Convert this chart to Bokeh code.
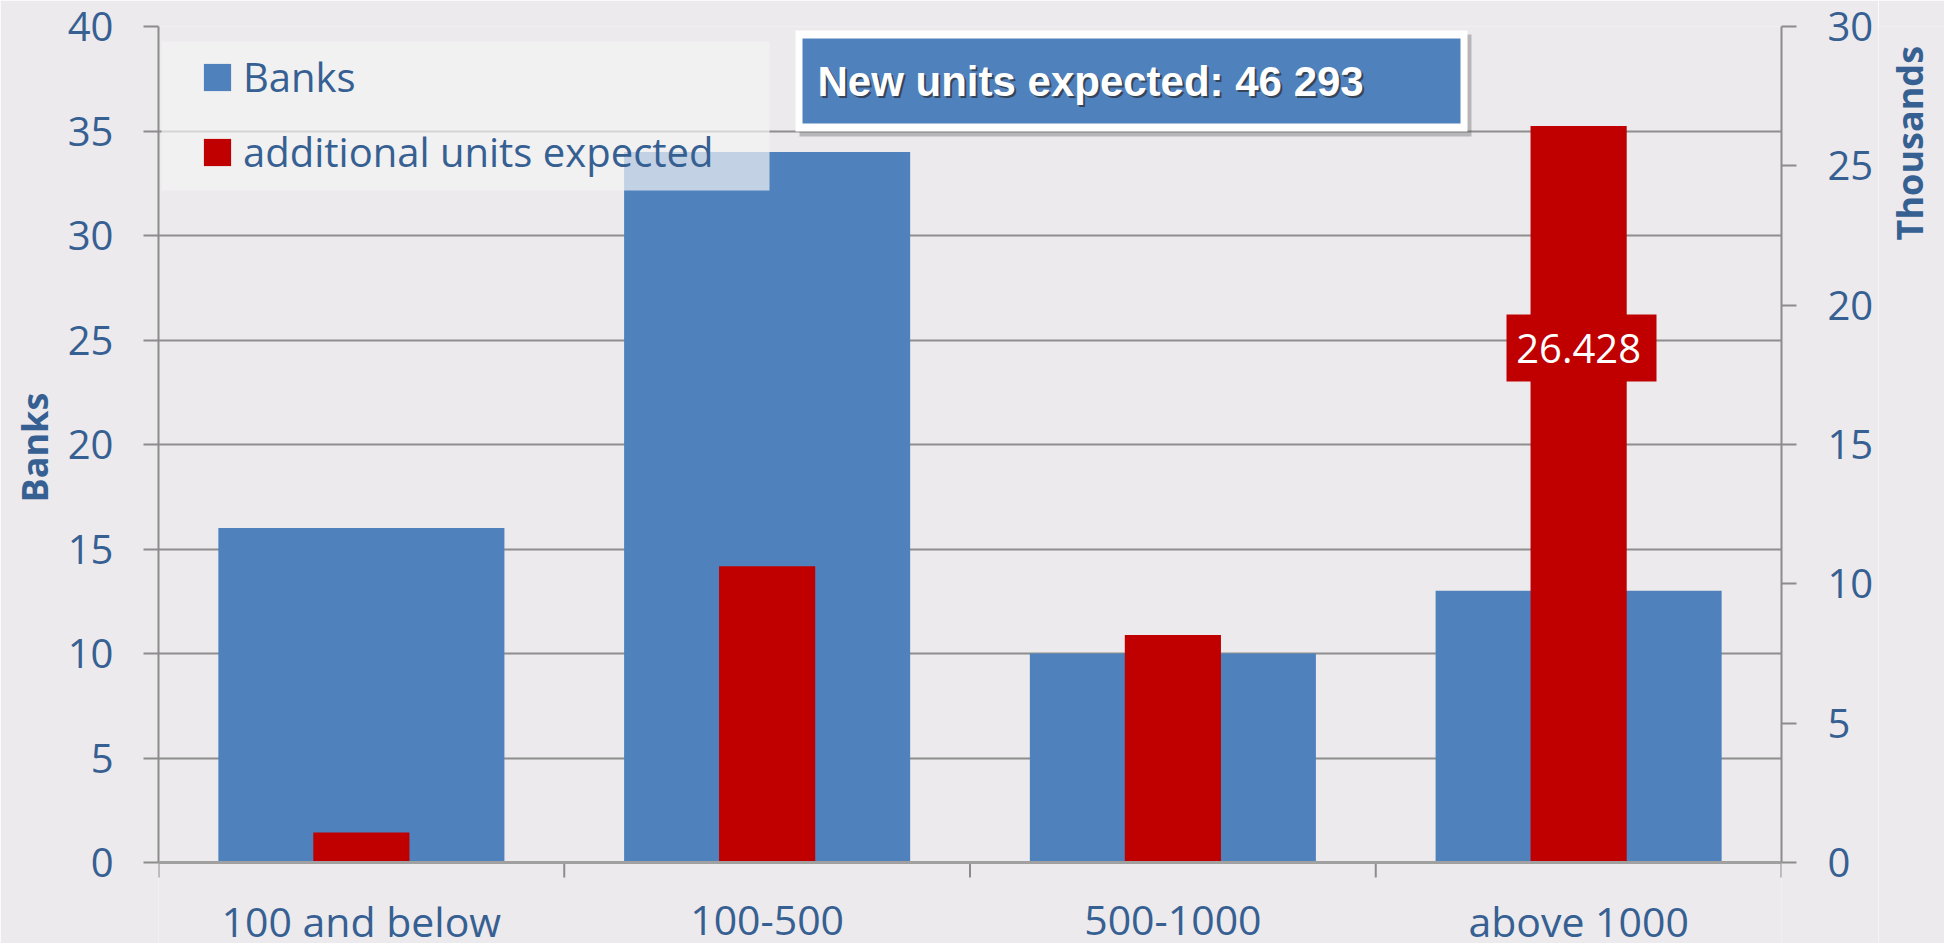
import math
from bokeh.plotting import figure
from bokeh.layouts import row
from bokeh.models import (Range1d, LinearAxis, FixedTicker, BoxAnnotation, Label,
                          Legend, LegendItem, Span)
from bokeh.core.properties import value
from bokeh.embed import file_html
from bokeh.resources import INLINE

# ---------------- data ----------------
categories = ["100 and below", "100-500", "500-1000", "above 1000"]
banks = [16, 34, 10, 13]
units_thousands = [1.075, 10.63, 8.16, 26.428]
highlight_label = "26.428"
headline = "New units expected: 46 293"
left_ticks = [0, 5, 10, 15, 20, 25, 30, 35, 40]
right_ticks = [0, 5, 10, 15, 20, 25, 30]

# ---------------- style ----------------
BG = "#ECEAED"
TXT = "#376092"
BLUE = "#4F81BD"
RED = "#C00000"
AX = "#8C8C8C"
FONT = "Open Sans"

# page geometry (the page is drawn from its top-left corner)
TOT_W, TOT_H = 1944, 943
FL, FR, FT, FB = 158, 1781, 26, 862      # value area: x axis baseline at FB
P_W = 1878                               # main figure width
S_W = TOT_W - P_W                        # right strip: axis title
NCAT = len(categories)
YMAX_L = left_ticks[-1]
YMAX_R = right_ticks[-1]


def dx(px):
    return (px - FL) / (FR - FL) * NCAT


def dy(py):
    return (FB - py) / (FB - FT) * YMAX_L


def du(py):
    return (FB - py) / (FB - FT) * YMAX_R


xc = [i + 0.5 for i in range(NCAT)]
bounds_x = list(range(NCAT + 1))

# the frame runs down to the page bottom so that the category labels can live inside it
p = figure(width=P_W, height=TOT_H, x_range=Range1d(0, NCAT), y_range=Range1d(dy(TOT_H), YMAX_L),
           x_axis_type=None, output_backend="svg", toolbar_location=None,
           min_border_left=FL, min_border_right=P_W - FR, min_border_top=FT, min_border_bottom=0,
           background_fill_color=BG, border_fill_color=BG, outline_line_color=None)
p.extra_y_ranges = {"units": Range1d(du(TOT_H), YMAX_R)}

# left axis
ya = p.yaxis[0]
ya.bounds = (0, YMAX_L)
ya.ticker = FixedTicker(ticks=left_ticks)
ya.major_tick_out = 15
ya.major_tick_in = 0
ya.minor_tick_out = 0
ya.minor_tick_in = 0
ya.major_tick_line_color = AX
ya.major_tick_line_width = 2
ya.axis_line_color = AX
ya.axis_line_width = 2
ya.major_label_text_font = FONT
ya.major_label_text_font_size = "40px"
ya.major_label_text_color = TXT
ya.major_label_standoff = 30
# leading no-break spaces move the centred title up to the middle of the value area
ya.axis_label = "\u00a0" * 8 + "Banks"
ya.axis_label_text_font = FONT
ya.axis_label_text_font_size = "36px"
ya.axis_label_text_font_style = "bold"
ya.axis_label_text_color = TXT
ya.axis_label_standoff = 6

# right axis
ra = LinearAxis(y_range_name="units", ticker=FixedTicker(ticks=right_ticks), bounds=(0, YMAX_R))
ra.major_tick_out = 15
ra.major_tick_in = 0
ra.minor_tick_out = 0
ra.minor_tick_in = 0
ra.major_tick_line_color = AX
ra.major_tick_line_width = 2
ra.axis_line_color = AX
ra.axis_line_width = 2
ra.major_label_text_font = FONT
ra.major_label_text_font_size = "40px"
ra.major_label_text_color = TXT
ra.major_label_standoff = 31
p.add_layout(ra, "right")

# grid
p.ygrid.ticker = FixedTicker(ticks=left_ticks)
p.ygrid.grid_line_color = "#8E8E8E"
p.ygrid.grid_line_width = 2

# bars
r_banks = p.vbar(x=xc, top=banks, width=0.705, bottom=0, fill_color=BLUE, line_color=None)
r_units = p.vbar(x=xc, top=units_thousands, width=0.237, bottom=0, fill_color=RED, line_color=None,
                 y_range_name="units")

# category axis: baseline, boundary ticks and labels
p.add_layout(Span(location=0, dimension="width", line_color="#A0A0A0", line_width=3))
p.segment(x0=bounds_x, y0=[0] * len(bounds_x), x1=bounds_x, y1=[dy(FB + 15)] * len(bounds_x),
          line_color=AX, line_width=2)
p.text(x=xc, y=[dy(920)] * NCAT, text=categories, text_font=value(FONT), text_font_size="41px",
       text_color=TXT, text_align="center", text_baseline="middle")

# legend background (semi-transparent, over the bars)
p.add_layout(BoxAnnotation(left=dx(161), right=dx(769), top=dy(41), bottom=dy(190),
                           fill_color="#F4F4F4", fill_alpha=0.7, line_color=None))

GLYPH = 34          # legend glyph box (the drawn square is 80% of it)
PAD = 10
LBL_H = 54
SPACING = 74 - LBL_H
leg_top = 78.5 - LBL_H / 2 - PAD
leg_h = 2 * PAD + 2 * LBL_H + SPACING
legend = Legend(items=[LegendItem(label="Banks", renderers=[r_banks]),
                       LegendItem(label="additional units expected", renderers=[r_units])],
                location=(int(round(203 - GLYPH * 0.1 - PAD - FL)), int(round(TOT_H - (leg_top + leg_h)))),
                padding=PAD, margin=0, spacing=SPACING, label_height=LBL_H,
                glyph_width=GLYPH, glyph_height=GLYPH, label_standoff=9,
                label_text_font=FONT, label_text_font_size="40px", label_text_color=TXT,
                background_fill_alpha=0, border_line_alpha=0)
p.add_layout(legend)

# headline box
p.add_layout(BoxAnnotation(left=dx(799), right=dx(1471), top=dy(34), bottom=dy(136),
                           fill_color="#555555", fill_alpha=0.35, line_color=None))
p.add_layout(BoxAnnotation(left=dx(795), right=dx(1467), top=dy(30), bottom=dy(131),
                           fill_color="white", fill_alpha=1, line_color=None))
p.add_layout(BoxAnnotation(left=dx(802), right=dx(1460), top=dy(38), bottom=dy(123),
                           fill_color=BLUE, fill_alpha=1, line_color=None))
for off, col, alp in [((2, -2), "#2A2A2A", 0.7), ((0, 0), "white", 1.0)]:
    p.add_layout(Label(x=dx(817), y=dy(81), x_offset=off[0], y_offset=off[1], text=headline,
                       text_font="Liberation Sans", text_font_style="bold",
                       text_font_size="42px", text_color=col, text_alpha=alp,
                       text_align="left", text_baseline="middle"))

# value label on the biggest red bar
p.add_layout(BoxAnnotation(left=dx(1506), right=dx(1656), top=du(314), bottom=du(381),
                           y_range_name="units", fill_color=RED, fill_alpha=1, line_color=None))
p.add_layout(Label(x=xc[3], y=du(348), y_range_name="units", text=highlight_label,
                   text_font=FONT, text_font_size="40px", text_color="white",
                   text_align="center", text_baseline="middle"))

# right strip with the right axis title, aligned to the top like the reference
s = figure(width=S_W, height=TOT_H, x_range=Range1d(0, 1), y_range=Range1d(0, 1),
           x_axis_type=None, y_axis_type=None, output_backend="svg", toolbar_location=None,
           min_border=0, background_fill_color=BG, border_fill_color=BG, outline_line_color=None)
s.xgrid.visible = False
s.ygrid.visible = False
s.text(x=[(1909 - P_W) / S_W], y=[1 - 120 / TOT_H], text=["Thousands"], angle=math.pi / 2,
       text_font=value(FONT), text_font_size="36px", text_font_style="bold", text_color=TXT,
       text_align="center", text_baseline="middle")

layout = row(p, s, spacing=0)
open("out.html", "w").write(file_html(layout, INLINE))
